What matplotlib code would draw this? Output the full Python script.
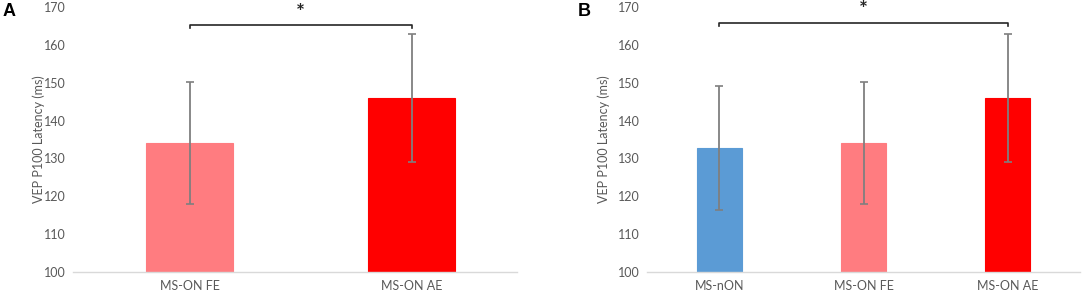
import matplotlib.pyplot as plt

plt.rcParams['font.family'] = ['Lato', 'DejaVu Sans']

# panel A
cats_a = ['MS-ON FE', 'MS-ON AE']
means_a = [134.0, 145.9]
sd_a = [16.1, 16.9]
colors_a = ['#FF7C80', '#FF0000']

# panel B
cats_b = ['MS-nON', 'MS-ON FE', 'MS-ON AE']
means_b = [132.8, 134.0, 145.9]
sd_b = [16.4, 16.1, 16.9]
colors_b = ['#5B9BD5', '#FF7C80', '#FF0000']

yticks = [100, 110, 120, 130, 140, 150, 160, 170]
ylabel = 'VEP P100 Latency (ms)'

fig = plt.figure(figsize=(10.84, 2.95), dpi=100)
ax_a = fig.add_axes([0.0673, 0.078, 0.4096, 0.898])
ax_b = fig.add_axes([0.5969, 0.078, 0.3994, 0.898])

text_col = '#595959'


def draw_panel(ax, cats, means, sd, colors, width, bracket, bracket_y, letter, letter_x, ylabel_x, shift):
    x = range(len(cats))
    ax.bar(x, [m - 100 for m in means], bottom=100, width=width, color=colors,
           edgecolor=colors, linewidth=0.8, zorder=2)
    ax.errorbar(x, means, yerr=sd, fmt='none', ecolor='#7F7F7F', elinewidth=1.3,
                capsize=3, capthick=1.2, zorder=3)
    ax.set_ylim(100, 170)
    ax.set_xlim(-0.5 - shift, len(cats) - 0.5 - shift)
    ax.set_yticks(yticks)
    ax.set_xticks(list(x))
    ax.set_xticklabels(cats)
    for s in ['top', 'right', 'left']:
        ax.spines[s].set_visible(False)
    ax.spines['bottom'].set_color('#D9D9D9')
    ax.spines['bottom'].set_linewidth(1.0)
    ax.tick_params(axis='both', length=0, colors=text_col, labelsize=9)
    ax.tick_params(axis='y', pad=5)
    ax.tick_params(axis='x', pad=6)
    ax.set_ylabel(ylabel, color=text_col, fontsize=9)
    ax.yaxis.set_label_coords(ylabel_x, 0.5)

    # significance bracket
    x0, x1 = bracket
    ax.plot([x0, x0, x1, x1], [bracket_y - 0.9, bracket_y, bracket_y, bracket_y - 0.9],
            color='#262626', lw=1.2, clip_on=False, zorder=4)
    ax.text((x0 + x1) / 2, bracket_y + 0.6, '*', ha='center', va='bottom',
            fontsize=15, color='#262626', fontweight='bold')
    fig.text(letter_x, 0.99, letter, fontsize=13, fontweight='bold', ha='left', va='top',
             family=['Liberation Sans', 'DejaVu Sans'])


draw_panel(ax_a, cats_a, means_a, sd_a, colors_a, 0.39, (0, 1), 165.3, 'A', 0.002, -0.062, 0.025)
draw_panel(ax_b, cats_b, means_b, sd_b, colors_b, 0.31, (0, 2), 165.9, 'B', 0.533, -0.085, 0.0)

fig.savefig('out.png', dpi=100)
